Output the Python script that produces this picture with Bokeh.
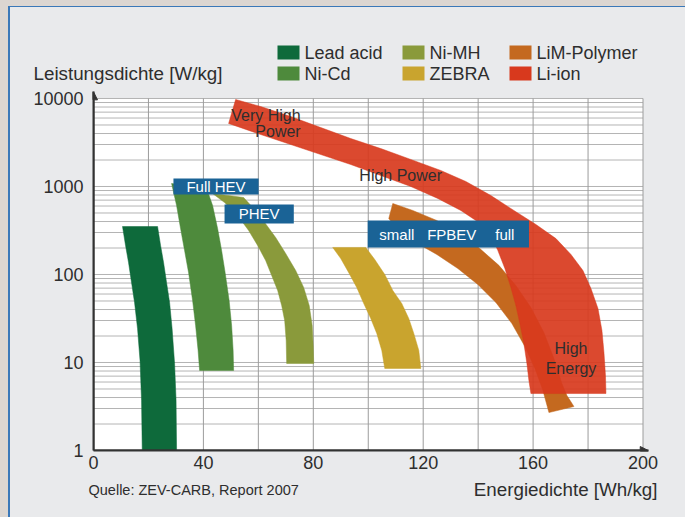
from bokeh.plotting import figure
from bokeh.layouts import column
from bokeh.core.properties import value
from bokeh.models import (FixedTicker, Label, BoxAnnotation, Arrow, NormalHead,
                          PrintfTickFormatter, Range1d)
from bokeh.embed import file_html
from bokeh.resources import INLINE

# Ragone bands: energy density [Wh/kg] vs. power density [W/kg].
# Each outline runs down one edge of the band and back up the other.
lead_acid_energy = [10.56, 11.66, 12.75, 13.84, 14.94, 16.03, 16.94, 17.49, 17.74,
                    30.24, 30.05, 29.51, 28.60, 27.69, 26.59, 25.50, 24.41, 23.32]
lead_acid_power = [351, 214, 137, 81.1, 48.1, 24.3, 10.5, 3.7, 1,
                   1, 3.7, 9.74, 24.3, 48.1, 81.1, 137, 214, 351]

ni_cd_energy = [28.42, 30.24, 31.69, 33.15, 34.61, 36.07, 37.16, 38.07, 38.62,
                51.00, 50.82, 50.27, 49.36, 47.91, 46.63, 45.17, 43.35, 41.17]
ni_cd_power = [1082, 608, 333, 187, 105, 50.7, 26.3, 13.7, 8.11,
               8.11, 13.7, 26.3, 50.7, 105, 187, 333, 608, 949]

ni_mh_energy = [43.35, 47.72, 52.46, 56.47, 59.74, 62.66, 64.85, 67.03, 68.49, 69.58,
                70.13, 70.31,
                80.15, 79.96, 79.60, 78.51, 76.50, 73.59, 69.95, 66.30, 62.30, 58.29,
                54.64]
ni_mh_power = [832, 657, 468, 316, 214, 144, 97.4, 65.8, 44.4, 30.0,
               17.8, 9.74,
               9.74, 15.6, 26.3, 44.4, 71.2, 111, 173, 263, 390, 562,
               750]

zebra_energy = [87.07, 89.98, 92.90, 95.81, 98.36, 100.91, 103.10, 104.92, 106.01,
                119.13, 118.40, 116.58, 114.75, 112.20, 108.93, 106.01, 102.37, 99.09]
zebra_power = [203, 152, 105, 71.2, 46.8, 31.6, 21.4, 13.7, 8.55,
               8.55, 13.7, 21.4, 31.6, 46.8, 65.8, 100, 148, 203]

lim_polymer_energy = [108.93, 116.21, 124.95, 132.97, 140.62, 147.54, 153.73, 159.20,
                      163.93, 167.58, 170.49, 172.31, 174.86,
                      165.76, 163.57, 160.66, 157.01, 152.28, 146.45, 139.89, 132.60,
                      124.95, 117.30, 110.75, 107.47]
lim_polymer_power = [641, 534, 411, 292, 197, 127, 75.0, 42.2,
                     21.9, 11.1, 5.77, 4.22, 3.16,
                     2.70, 4.81, 8.55, 15.2, 27.7, 48.1, 77.0, 117,
                     169, 231, 316, 433]

li_ion_energy = [51.73, 60.84, 71.77, 82.70, 93.62, 104.55, 115.48, 126.41, 135.52,
                 144.63, 153.01, 161.02, 168.31, 173.77, 178.14, 181.06, 183.61,
                 185.06, 185.79, 186.34, 186.52,
                 159.20, 158.47, 157.74, 156.65, 155.19, 153.73, 151.91, 149.73,
                 147.18, 144.63, 140.26, 133.70, 125.32, 115.48, 104.55, 93.62,
                 82.70, 71.77, 60.84, 49.18]
li_ion_power = [9745, 8110, 6240, 4680, 3510, 2700, 2030, 1520, 1140,
                790, 534, 370, 256, 169, 111, 69.3, 41.1,
                23.1, 13.0, 7.12, 4.44,
                4.44, 6.24, 9.74, 16.4, 27.7, 44.4, 71.2, 117,
                187, 277, 390, 534, 731, 1000, 1334, 1778,
                2310, 3000, 3900, 5200]

chemistries = ["Lead acid", "Ni-Cd", "Ni-MH", "ZEBRA", "LiM-Polymer", "Li-ion"]
colors = ["#0e6a3b", "#4e8a3c", "#8a9a3b", "#c9a42e", "#c4691f", "#d8391d"]

x_tick_values = [0, 40, 80, 120, 160, 200]
x_grid_values = list(range(0, 201, 20))
y_tick_values = [1, 10, 100, 1000, 10000]
y_grid_values = [m * 10 ** k for k in range(4) for m in range(1, 10)] + [10000]

FONT = "Liberation Sans"
INK = "#2e2e2e"
PANEL = "#e9eaec"
WIDTH = 675


def strip(height):
    """Plain drawing strip in pixel-like units (y grows downward)."""
    f = figure(width=WIDTH, height=height, x_range=Range1d(0, WIDTH),
               y_range=Range1d(height, 0), x_axis_location=None,
               y_axis_location=None, output_backend="svg", toolbar_location=None,
               min_border_left=0, min_border_right=0, min_border_top=0,
               min_border_bottom=0)
    f.frame_align = False
    f.grid.visible = False
    f.outline_line_color = None
    f.background_fill_color = PANEL
    f.border_fill_color = PANEL
    return f


def strip_text(f, x, y, text, align="left", size="18px"):
    f.text(x=[x], y=[y], text=[text], text_font=value(FONT), text_font_size=size,
           text_color=INK, text_align=align, text_baseline="middle")


# ---- header: axis title and legend ----
header = strip(78)
strip_text(header, 23, 66, "Leistungsdichte [W/kg]", size="18.8px")
legend_cols = [267, 392, 499]
legend_rows = [45, 66]
for i, name in enumerate(chemistries):
    cx = legend_cols[i // 2]
    cy = legend_rows[i % 2]
    header.quad(left=[cx], right=[cx + 22], top=[cy - 7], bottom=[cy + 7],
                fill_color=colors[i], line_color=None)
    strip_text(header, cx + 27, cy, name)

# ---- main chart ----
p = figure(width=WIDTH, height=393, x_range=(0, 202), y_range=(1, 12010),
           y_axis_type="log", output_backend="svg", toolbar_location=None,
           min_border_left=83, min_border_right=37, min_border_top=6,
           min_border_bottom=28)
p.frame_align = False
p.background_fill_color = PANEL
p.border_fill_color = PANEL
p.outline_line_color = None
p.grid.visible = False

for ax in (p.xaxis[0], p.yaxis[0]):
    ax.axis_line_color = "#333333"
    ax.axis_line_width = 2
    ax.major_tick_line_color = None
    ax.minor_tick_line_color = None
    ax.major_tick_out = 0
    ax.major_label_text_font = FONT
    ax.major_label_text_font_size = "18px"
    ax.major_label_text_color = INK

p.xaxis.ticker = FixedTicker(ticks=x_tick_values)
p.xaxis.major_label_standoff = 5
p.yaxis.ticker = FixedTicker(ticks=y_tick_values)
p.yaxis.formatter = PrintfTickFormatter(format="%d")
p.yaxis.major_label_standoff = 10

# white plotting area and its grid (1..9 per decade, every 20 Wh/kg)
x_lo, x_hi = x_tick_values[0], x_tick_values[-1]
y_lo, y_hi = y_tick_values[0], y_tick_values[-1]
p.quad(left=[x_lo], right=[x_hi], bottom=[y_lo], top=[y_hi],
       fill_color="white", line_color=None)
p.segment(x0=[x_lo] * len(y_grid_values), x1=[x_hi] * len(y_grid_values),
          y0=y_grid_values, y1=y_grid_values, line_color="#b4b4b4", line_width=1)
p.segment(x0=x_grid_values, x1=x_grid_values, y0=[y_lo] * len(x_grid_values),
          y1=[y_hi] * len(x_grid_values), line_color="#9c9c9c", line_width=1)

bands = [
    (lead_acid_energy, lead_acid_power),
    (ni_cd_energy, ni_cd_power),
    (ni_mh_energy, ni_mh_power),
    (zebra_energy, zebra_power),
    (lim_polymer_energy, lim_polymer_power),
    (li_ion_energy, li_ion_power),
]
for (ex, pw), col, name in zip(bands, colors, chemistries):
    alpha = 0.92 if name == "Li-ion" else 1.0
    p.patch(ex, pw, fill_color=col, fill_alpha=alpha, line_color=col,
            line_alpha=0.5 * alpha, line_width=1)

# axis arrow heads
for xe, ye in [(0, 11900), (201.9, 1)]:
    p.add_layout(Arrow(end=NormalHead(size=8, fill_color="#333333",
                                      line_color="#333333"),
                       x_start=0, y_start=1, x_end=xe, y_end=ye,
                       line_color="#333333", line_width=2))

# vehicle class tags
tag_blue = "#1a6396"
for left, right, bottom, top in [(29.1, 60.1, 811, 1233),
                                 (47.7, 72.9, 380, 624),
                                 (99.8, 158.5, 203, 411)]:
    p.add_layout(BoxAnnotation(left=left, right=right, bottom=bottom, top=top,
                               fill_color=tag_blue, fill_alpha=1, line_alpha=0))


def label(x, y, text, size="16px", color=INK, align="center"):
    p.add_layout(Label(x=x, y=y, text=text, text_font=FONT, text_font_size=size,
                       text_color=color, text_align=align, text_baseline="middle"))


label(44.6, 1000, "Full HEV", "15px", "white")
label(60.3, 487, "PHEV", "15px", "white")
label(110.4, 285, "small", "15px", "white")
label(130.4, 285, "FPBEV", "15px", "white")
label(149.7, 285, "full", "15px", "white")

label(75.4, 6412, "Very High", align="right")
label(75.4, 4217, "Power", align="right")
label(111.8, 1334, "High Power")
label(173.8, 14.4, "High")
label(173.8, 8.55, "Energy")

# ---- footer: source and x-axis title ----
footer = strip(39)
strip_text(footer, 78, 11, "Quelle: ZEV-CARB, Report 2007", size="14.5px")
strip_text(footer, 647, 11, "Energiedichte [Wh/kg]", size="18.8px", align="right")

body = column(header, p, footer, styles={"background-color": PANEL})
body.margin = (1, 0, 0, 2)
frame_line = column(body, styles={"background-color": "#3b78b8"})
frame_line.margin = (6, 0, 0, 8)
page = column(frame_line, styles={"background-color": "#dcd6d1"})

open("out.html", "w").write(file_html(page, INLINE))
